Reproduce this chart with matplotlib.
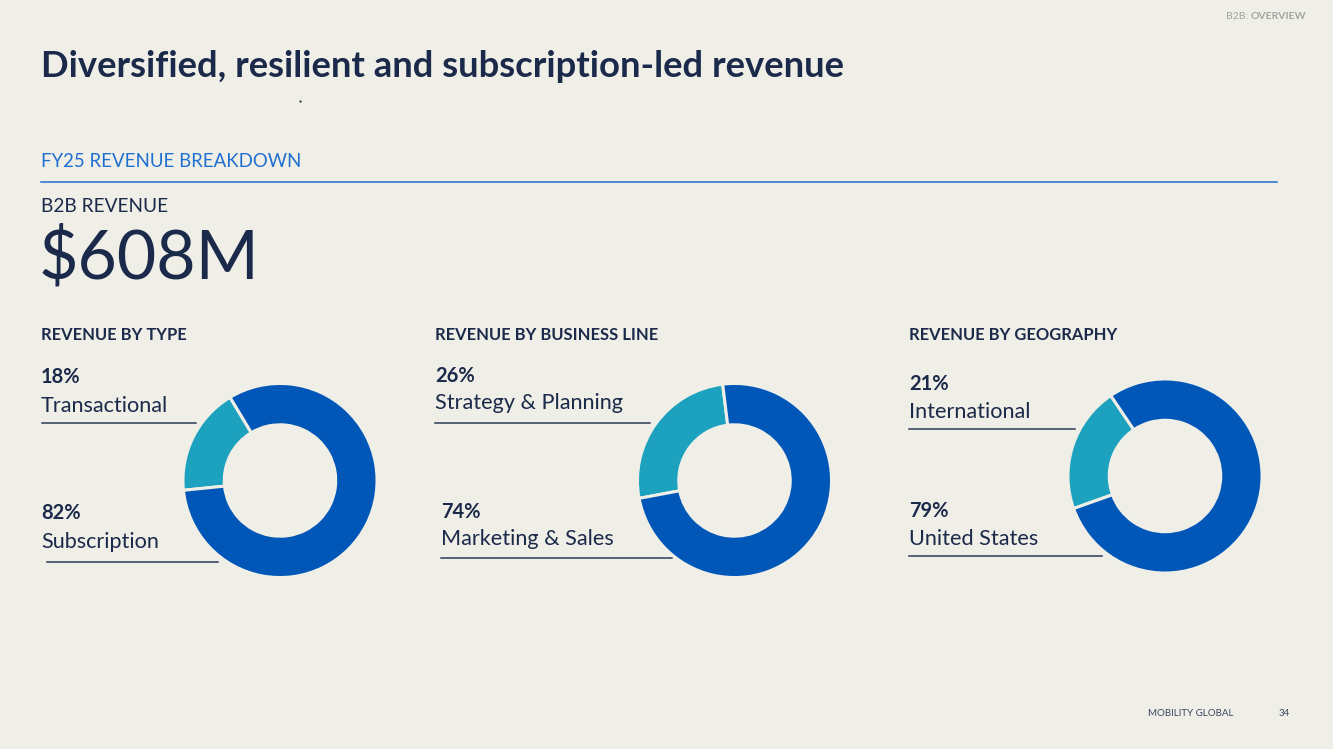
import matplotlib
matplotlib.use("Agg")
import matplotlib.pyplot as plt

# ---- data ----
chart_titles = ["REVENUE BY TYPE", "REVENUE BY BUSINESS LINE", "REVENUE BY GEOGRAPHY"]
small_labels = ["Transactional", "Strategy & Planning", "International"]
small_values = [18, 26, 21]
large_labels = ["Subscription", "Marketing & Sales", "United States"]
large_values = [82, 74, 79]
start_angles = [121, 97, 124]

title = "Diversified, resilient and subscription-led revenue"
section = "FY25 REVENUE BREAKDOWN"
kpi_label = "B2B REVENUE"
kpi_value = "$608M"

# ---- style ----
W, H = 1333, 749
BG = "#EFEEE7"
NAVY = "#1B2A4A"
BLUE = "#0057B8"
TEAL = "#1CA1BF"
LINK = "#1F6FD0"
LINE = "#2B3A55"
FONT = "Lato"

fig = plt.figure(figsize=(W / 100, H / 100), dpi=100, facecolor=BG)
bg = fig.add_axes([0, 0, 1, 1])
bg.set_xlim(0, W)
bg.set_ylim(H, 0)
bg.axis("off")
bg.set_facecolor(BG)


def txt(x, y, s, size, color=NAVY, weight="normal", ha="left", va="baseline"):
    return bg.text(x, y, s, fontsize=size, color=color, fontweight=weight, ha=ha,
                   va=va, family=FONT)


# header (two-part label placed side by side)
ov = txt(1306, 19, "OVERVIEW", 7.5, color="#A3A3A3", weight="bold", ha="right")
fig.canvas.draw()
ext = ov.get_window_extent()
ov_left = ext.x0  # display pixels == data pixels here
txt(ov_left - 2, 19, "B2B:", 7.5, color="#A3A3A3", ha="right")

txt(41, 77, title, 26.2, weight="bold")
bg.plot([300], [101], marker="s", ms=0.6, color="#333333")

txt(41, 167, section, 13.4, color=LINK)
bg.plot([41, 1277], [182, 182], color=LINK, lw=1.1)
txt(41, 212, kpi_label, 13.7)
txt(39, 278, kpi_value, 49)

# footer
txt(1234, 716, "MOBILITY GLOBAL", 7, color="#3A4560", ha="right")
txt(1290, 716, "34", 7, color="#3A4560", ha="right")

# chart layout (pixel coordinates)
title_x = [41, 435, 909]
centers = [(280, 480.5), (734.5, 480.5), (1165, 476)]
radius = 98
top_lbl = [(41, 383, 412, 423, 42, 196), (435, 382, 409, 423, 435, 650),
           (909, 390, 418, 429, 909, 1075)]
bot_lbl = [(41, 519, 548, 562, 47, 218), (441, 518, 545, 558, 441, 672),
           (909, 517, 545, 556, 909, 1102)]

for i in range(3):
    txt(title_x[i], 340, chart_titles[i], 11.9, weight="bold")
    x, yp, yl, yline, lx0, lx1 = top_lbl[i]
    txt(x, yp, f"{small_values[i]}%", 14.5, weight="bold")
    txt(x, yl, small_labels[i], 15.6)
    bg.plot([lx0, lx1], [yline, yline], color=LINE, lw=1.1)
    x, yp, yl, yline, lx0, lx1 = bot_lbl[i]
    txt(x, yp, f"{large_values[i]}%", 14.5, weight="bold")
    txt(x, yl, large_labels[i], 15.6)
    bg.plot([lx0, lx1], [yline, yline], color=LINE, lw=1.1)

    cx, cy = centers[i]
    ax = fig.add_axes([(cx - radius) / W, 1 - (cy + radius) / H,
                       2 * radius / W, 2 * radius / H])
    ax.set_facecolor("none")
    ax.pie([small_values[i], large_values[i]], colors=[TEAL, BLUE],
           startangle=start_angles[i], counterclock=True, radius=1.01,
           wedgeprops=dict(width=0.43, edgecolor=BG, linewidth=2.2))
    ax.set_xlim(-1.02, 1.02)
    ax.set_ylim(-1.02, 1.02)
    ax.set_aspect("auto")
    ax.axis("off")

fig.savefig("out.png", dpi=100, facecolor=BG)
